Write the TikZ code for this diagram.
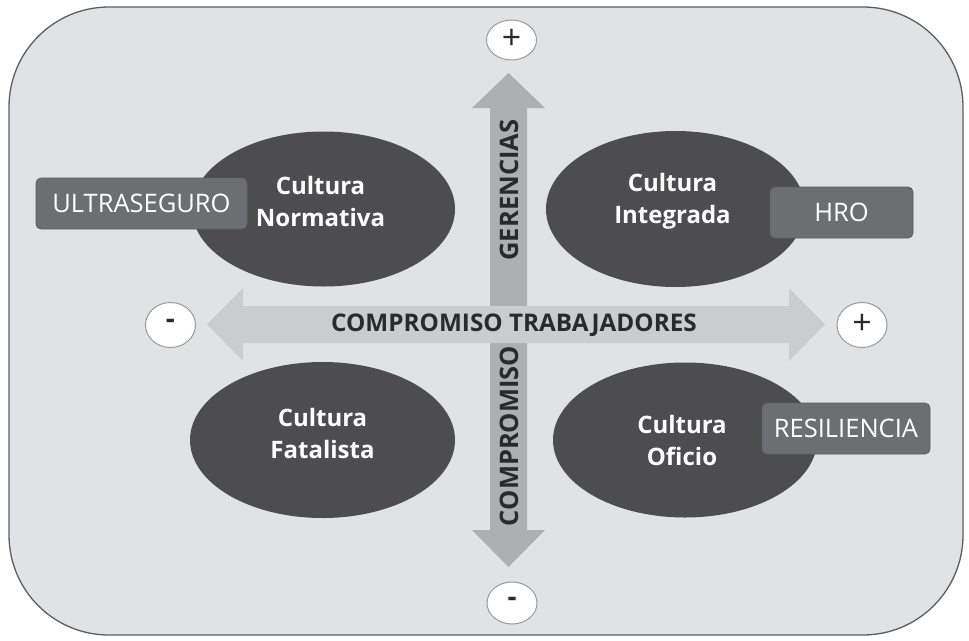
\documentclass[tikz,border=0pt]{standalone}
\usepackage{fontspec}
\setmainfont{Open Sans}
\usetikzlibrary{shapes.geometric}
\definecolor{framefill}{HTML}{E1E2E4}
\definecolor{frameline}{HTML}{5E5E60}
\definecolor{ellfill}{HTML}{4D4D4F}
\definecolor{boxfill}{HTML}{6D6E71}
\definecolor{boxshadow}{HTML}{5E5F61}
\definecolor{vaxis}{HTML}{AEAFB1}
\definecolor{haxis}{HTML}{CBCCCE}
\definecolor{axtext}{HTML}{2A2A2A}
\definecolor{signline}{HTML}{9A9A9C}
\tikzset{
  cult/.style={ellipse, fill=ellfill, inner sep=0pt},
  culttext/.style={inner sep=0pt, text=white, font=\fontsize{24}{32}\selectfont\bfseries, align=center},
  tag/.style={rectangle, rounded corners=5pt, fill=boxfill, draw=boxshadow, line width=0.8pt, text=white, font=\fontsize{25.5}{28}\selectfont, inner sep=0pt},
  sign/.style={ellipse, fill=white, draw=signline, line width=1pt, inner sep=0pt, minimum width=50pt, minimum height=42pt, font=\fontsize{34}{34}\selectfont, text=axtext},
  axlabel/.style={text=axtext, font=\fontsize{24.3}{24}\selectfont\bfseries, inner sep=0pt}
}
\begin{document}
\begin{tikzpicture}[x=1pt,y=-1pt]
\useasboundingbox (0,0) rectangle (969,640);
% frame
\draw[fill=framefill, draw=frameline, line width=1.3pt, rounded corners=100pt] (9,7) rectangle (963,635);
% vertical axis
\fill[vaxis] (490,108) -- (472,108) -- (508.5,73) -- (545,108) -- (527,108) -- (527,530) -- (545,530) -- (508.5,567) -- (472,530) -- (490,530) -- cycle;
% horizontal axis
\fill[haxis] (243,306) -- (243,288) -- (207,324.5) -- (243,361) -- (243,343) -- (789,343) -- (789,361) -- (825,324.5) -- (789,288) -- (789,306) -- cycle;
% axis labels
\node[axlabel] (htxt) at (514,325) {COMPROMISO TRABAJADORES};
\node[axlabel, rotate=90, font=\fontsize{25.5}{25}\selectfont\bfseries] (gtxt) at (509,190) {GERENCIAS};
\node[axlabel, rotate=90, font=\fontsize{25.5}{25}\selectfont\bfseries] (ctxt) at (509,436) {COMPROMISO};
% signs
\node[sign, minimum height=40pt] (ptop) at (511.5,40) {\raisebox{2pt}{+}};
\node[sign, minimum height=45pt] (mleft) at (170.5,325) {\raisebox{2pt}{\fontsize{28}{28}\selectfont\bfseries -}};
\node[sign, minimum height=45pt] (pright) at (862,325) {\raisebox{2pt}{+}};
\node[sign, minimum height=42pt] (mbot) at (512,603) {\raisebox{2pt}{\fontsize{28}{28}\selectfont\bfseries -}};
% ellipses
\node[cult, minimum width=263pt, minimum height=155pt] (norm) at (323.5,209) {};
\node[cult, minimum width=259pt, minimum height=156pt] (integ) at (675.5,209) {};
\node[cult, minimum width=265pt, minimum height=156pt] (fatal) at (322.5,440) {};
\node[cult, minimum width=264pt, minimum height=155pt] (ofic) at (685,440) {};
\node[culttext] (normt) at ([xshift=-3pt,yshift=8pt]norm.center) {Cultura\\Normativa};
\node[culttext] (integt) at ([xshift=-3pt,yshift=8pt]integ.center) {Cultura\\Integrada};
\node[culttext] (fatalt) at ([yshift=7pt]fatal.center) {Cultura\\Fatalista};
\node[culttext] (ofict) at ([xshift=-3pt]ofic.center) {Cultura\\Oficio};
% tags
\node[tag, minimum width=211pt, minimum height=51pt] (ultra) at (141.5,203.5) {ULTRASEGURO};
\node[tag, minimum width=143pt, minimum height=51pt] (hro) at (841.5,212.5) {HRO};
\node[tag, minimum width=168pt, minimum height=51pt] (resil) at (846,428.5) {RESILIENCIA};
\end{tikzpicture}
\end{document}
